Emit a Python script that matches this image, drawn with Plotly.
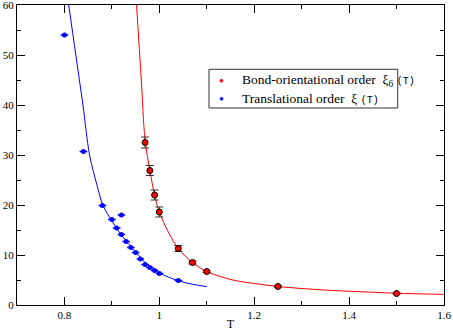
import plotly.graph_objects as go

# translational order xi(T), blue points
t_trans = [0.80, 0.84, 0.88, 0.90, 0.91, 0.92, 0.92, 0.93, 0.94, 0.95, 0.96, 0.97, 0.98, 0.99, 1.00, 1.04]
xi_trans = [54.0, 30.7, 19.9, 17.1, 15.4, 18.0, 14.1, 12.7, 11.5, 10.5, 9.2, 8.1, 7.5, 6.9, 6.3, 4.9]
xerr_trans = [0.008] * len(t_trans)

# bond-orientational order xi_6(T), red points
t_bond = [0.97, 0.98, 0.99, 1.00, 1.04, 1.07, 1.10, 1.25, 1.50]
xi_bond = [32.5, 26.9, 22.0, 18.6, 11.3, 8.5, 6.7, 3.7, 2.3]
yerr_bond = [1.1, 1.0, 1.0, 1.0, 0.6, 0.3, 0.2, 0.15, 0.1]
xerr_bond = [0.0, 0.0, 0.0, 0.0, 0.0, 0.006, 0.006, 0.006, 0.006]

# fitted curves
fit_trans_t = [0.809, 0.824, 0.839, 0.853, 0.868, 0.881, 0.90, 0.92, 0.95, 0.98, 1.00, 1.04, 1.07, 1.10]
fit_trans_xi = [60, 50, 40, 30, 24.2, 20, 16.8, 14.0, 10.6, 7.6, 6.4, 4.85, 4.15, 3.67]
fit_bond_t = [0.952, 0.962, 0.970, 0.98, 0.99, 1.00, 1.02, 1.04, 1.07, 1.10, 1.155, 1.20, 1.25, 1.30, 1.366, 1.45, 1.50, 1.60]
fit_bond_xi = [60, 45, 33, 27, 22, 18.6, 14.4, 11.3, 8.5, 6.7, 5.0, 4.3, 3.7, 3.3, 2.9, 2.55, 2.35, 2.12]

legend_labels = [
    "Bond-orientational order  ξ<sub>6</sub> <span style='font-family:Liberation Mono;font-size:10px'>(T)</span>",
    "Translational order  ξ <span style='font-family:Liberation Mono;font-size:10px'>(T)</span>",
]
legend_colors = ['red', 'blue']

serif = "Liberation Serif"

fig = go.Figure()
fig.add_trace(go.Scatter(x=fit_bond_t, y=fit_bond_xi, mode='lines', line=dict(color='red', width=1, shape='spline'),
                         showlegend=False, hoverinfo='skip'))
fig.add_trace(go.Scatter(x=fit_trans_t, y=fit_trans_xi, mode='lines', line=dict(color='blue', width=1, shape='spline'),
                         showlegend=False, hoverinfo='skip'))
fig.add_trace(go.Scatter(
    x=t_bond, y=xi_bond, mode='markers', showlegend=False,
    marker=dict(color='red', size=6, line=dict(color='black', width=1)),
    error_y=dict(type='data', array=yerr_bond, color='#333', thickness=1, width=4),
    error_x=dict(type='data', array=xerr_bond, color='#333', thickness=1, width=0),
))
fig.add_trace(go.Scatter(
    x=t_trans, y=xi_trans, mode='markers', showlegend=False,
    marker=dict(color='blue', size=5),
    error_x=dict(type='data', array=xerr_trans, color='blue', thickness=1.5, width=0),
))

# legend box drawn by hand so it matches the compact original
fig.add_shape(type='rect', xref='paper', yref='paper', x0=0.4496, x1=0.8916, y0=0.6567, y1=0.7857,
              line=dict(color='#333', width=1), fillcolor='white', layer='above')
row_y = [0.749, 0.690]
for lab, col, yy in zip(legend_labels, legend_colors, row_y):
    fig.add_annotation(xref='paper', yref='paper', x=0.4794, y=yy, text='●', showarrow=False,
                       xanchor='center', yanchor='middle', font=dict(size=8, color=col))
    fig.add_annotation(xref='paper', yref='paper', x=0.522, y=yy, text=lab, showarrow=False,
                       xanchor='left', yanchor='middle', font=dict(family=serif, size=13.5, color='black'))

axis_common = dict(showline=True, linecolor='black', linewidth=1, mirror='allticks', ticks='inside',
                   ticklen=8, tickcolor='black', showgrid=False, zeroline=False, automargin=False,
                   ticklabeloverflow='allow',
                   tickfont=dict(family=serif, size=11, color='black'))
fig.update_xaxes(range=[0.7, 1.6], tick0=0, dtick=0.2,
                 minor=dict(ticks='inside', ticklen=4, dtick=0.1, tick0=0, tickcolor='black', showgrid=False),
                 title=dict(text='T', font=dict(family=serif, size=12, color='black'), standoff=2),
                 **axis_common)
fig.update_yaxes(range=[0, 60], tick0=0, dtick=10,
                 minor=dict(ticks='inside', ticklen=4, dtick=5, tickcolor='black', showgrid=False),
                 **axis_common)
fig.update_layout(
    width=453, height=331,
    margin=dict(l=17, r=9, t=5, b=26),
    plot_bgcolor='white', paper_bgcolor='white',
    font=dict(family=serif, size=11, color='black'),
    showlegend=False,
)
fig.write_html("out.html", config={'displayModeBar': False},
               post_script="document.body.style.margin='0';")
